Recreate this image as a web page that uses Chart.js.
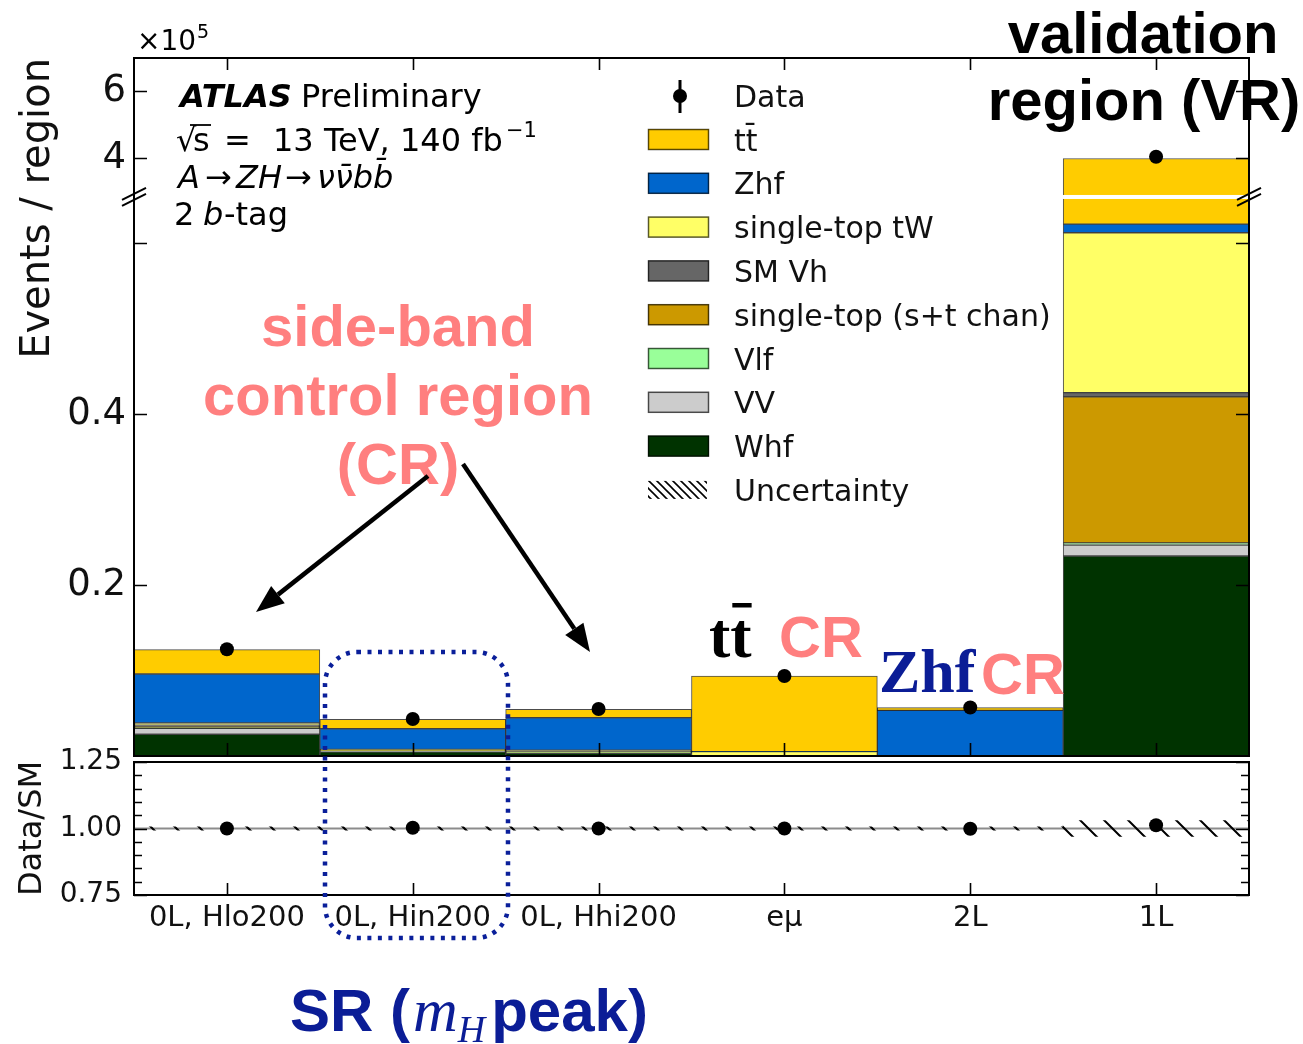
<!DOCTYPE html>
<html>
<head>
<meta charset="utf-8">
<script src="https://cdn.jsdelivr.net/npm/chart.js@4.4.1/dist/chart.umd.min.js"></script>
<style>
  html, body { margin: 0; padding: 0; background: #fff; }
  #wrap { position: relative; width: 1303px; height: 1044px; overflow: hidden; }
  canvas { position: absolute; left: 0; }
</style>
</head>
<body>
<div id="wrap">
  <canvas id="ratioChart" width="1303" height="250" style="top:700px"></canvas>
  <canvas id="mainChart" width="1303" height="1044" style="top:0"></canvas>
</div>
<script>
// ---- regions and event yields (events per region) ----
const regions = ['0L, Hlo200', '0L, Hin200', '0L, Hhi200', 'eμ', '2L', '1L'];

// background processes, listed from the bottom of the stack upwards
const whf      = [2540,  480,  320,    3,    3,  23400];
const vv       = [ 700,  100,   60,    5,   15,   1280];
const vlf      = [  80,   30,   20,    2,    5,    250];
const stopST   = [ 120,   50,   50,   15,    2,  17100];
const smVh     = [ 180,   80,   60,    5,   15,    470];
const stopTW   = [ 240,   40,  160,  480,   10,  18710];
const zhf      = [5730, 2410, 3810,   10, 5290,   1020];
const ttbar    = [2850, 1100,  980, 8840,  310, 337700];

const dataEvents = [12480, 4320, 5490, 9360, 5680, 405000];

// Data / SM ratio and relative uncertainty of the prediction
const ratio    = [1.000, 1.003, 1.000, 1.000, 0.999, 1.012];
const ratioUnc = [0.006, 0.006, 0.006, 0.006, 0.006, 0.030];

// axis ticks
const mainTicks      = [20000, 40000, 60000, 400000, 600000];
const mainUnlabelled = [60000];
const ratioTicks     = [0.75, 0.80, 0.85, 0.90, 0.95, 1.00, 1.05, 1.10, 1.15, 1.20, 1.25];
const ratioMajor     = [0.75, 1.00, 1.25];

// broken y axis: lower linear segment + upper linear segment
const Y_BREAK = { lowerMax: 65400, upperMin: 285000, upperMax: 700000, lowerShare: 0.8009 };

class BrokenLinearScale extends Chart.LinearScale {
  breakPixel() {
    return this.bottom - (this.bottom - this.top) * Y_BREAK.lowerShare;
  }
  getPixelForValue(value) {
    const split = this.breakPixel();
    if (value <= Y_BREAK.lowerMax) {
      return this.bottom - (value / Y_BREAK.lowerMax) * (this.bottom - split);
    }
    if (value >= Y_BREAK.upperMin) {
      const v = Math.min(value, Y_BREAK.upperMax);
      return split - (v - Y_BREAK.upperMin) / (Y_BREAK.upperMax - Y_BREAK.upperMin) * (split - this.top);
    }
    return split;
  }
  getValueForPixel(pixel) {
    const split = this.breakPixel();
    if (pixel >= split) {
      return (this.bottom - pixel) / (this.bottom - split) * Y_BREAK.lowerMax;
    }
    return Y_BREAK.upperMin + (split - pixel) / (split - this.top) * (Y_BREAK.upperMax - Y_BREAK.upperMin);
  }
}
BrokenLinearScale.id = 'brokenLinear';
BrokenLinearScale.defaults = Chart.LinearScale.defaults;
Chart.register(BrokenLinearScale);

Chart.defaults.font.family = '"DejaVu Sans", sans-serif';
Chart.defaults.color = '#000';

const stackDefs = [
  { label: 'Whf',                   values: whf,    color: '#003300' },
  { label: 'VV',                    values: vv,     color: '#cccccc' },
  { label: 'Vlf',                   values: vlf,    color: '#99ff99' },
  { label: 'single-top (s+t chan)', values: stopST, color: '#cc9900' },
  { label: 'SM Vh',                 values: smVh,   color: '#666666' },
  { label: 'single-top tW',         values: stopTW, color: '#ffff66' },
  { label: 'Zhf',                   values: zhf,    color: '#0066cc' },
  { label: 'tt\u0304',              values: ttbar,  color: '#ffcc00' }
];

function hatchPattern(size, lw) {
  const c = document.createElement('canvas');
  c.width = size; c.height = size;
  const g = c.getContext('2d');
  g.strokeStyle = '#000';
  g.lineWidth = lw;
  g.beginPath();
  g.moveTo(-1, -1); g.lineTo(size + 1, size + 1);
  g.moveTo(size - 2, -2); g.lineTo(size + 2, 2);
  g.moveTo(-2, size - 2); g.lineTo(2, size + 2);
  g.stroke();
  return g.createPattern(c, 'repeat');
}

const NAVY = '#0b1d96';
const SALMON = '#ff7f7f';

function arrow(ctx, x0, y0, x1, y1) {
  const ang = Math.atan2(y1 - y0, x1 - x0);
  const L = 28, W = 11;
  const bx = x1 - L * Math.cos(ang), by = y1 - L * Math.sin(ang);
  ctx.strokeStyle = '#000'; ctx.fillStyle = '#000';
  ctx.lineWidth = 4.5; ctx.lineCap = 'butt';
  ctx.beginPath(); ctx.moveTo(x0, y0); ctx.lineTo(bx, by); ctx.stroke();
  ctx.beginPath();
  ctx.moveTo(x1, y1);
  ctx.lineTo(bx + W * Math.sin(ang), by - W * Math.cos(ang));
  ctx.lineTo(bx - W * Math.sin(ang), by + W * Math.cos(ang));
  ctx.closePath(); ctx.fill();
}

// frame, inward ticks and the axis break of the upper panel
const mainDecor = {
  id: 'mainDecor',
  afterDatasetsDraw(chart) {
    const { ctx, chartArea: a, scales: { x, y } } = chart;
    ctx.save();
    const yb = y.breakPixel();
    ctx.fillStyle = '#fff';
    ctx.fillRect(a.left + 1, yb - 2, a.right - a.left - 2, 4);

    ctx.strokeStyle = '#000';
    ctx.lineWidth = 2;
    ctx.strokeRect(a.left, a.top, a.right - a.left, a.bottom - a.top);

    ctx.lineWidth = 1.6;
    ctx.beginPath();
    y.ticks.forEach(t => {
      const py = Math.round(y.getPixelForValue(t.value)) + 0.5;
      ctx.moveTo(a.left, py); ctx.lineTo(a.left + 13, py);
      ctx.moveTo(a.right, py); ctx.lineTo(a.right - 13, py);
    });
    regions.forEach((r, i) => {
      const px = Math.round(x.getPixelForValue(i)) + 0.5;
      ctx.moveTo(px, a.top); ctx.lineTo(px, a.top + 12);
      ctx.moveTo(px, a.bottom); ctx.lineTo(px, a.bottom - 13);
    });
    ctx.stroke();

    // "//" break marks on both spines
    ctx.lineWidth = 2;
    ctx.beginPath();
    [a.left, a.right].forEach(sx => {
      [-3, 3].forEach(dy => {
        ctx.moveTo(sx - 12, yb + dy + 6);
        ctx.lineTo(sx + 12, yb + dy - 6);
      });
    });
    ctx.stroke();
    ctx.restore();
  },
  afterDraw(chart) {
    const { ctx } = chart;
    ctx.save();
    ctx.textBaseline = 'alphabetic';
    ctx.fillStyle = '#000';

    // axis multiplier
    ctx.font = '28px "DejaVu Sans"';
    ctx.textAlign = 'left';
    ctx.fillText('×10', 137, 50);
    const mw = ctx.measureText('×10').width;
    ctx.font = '19px "DejaVu Sans"';
    ctx.fillText('5', 137 + mw + 1, 38);

    // experiment label block
    ctx.font = 'italic bold 32px "DejaVu Sans"';
    ctx.fillText('ATLAS', 180, 107);
    ctx.font = '32px "DejaVu Sans"';
    ctx.fillText('Preliminary', 301, 107);

    ctx.font = '32px "DejaVu Sans"';
    ctx.fillText('√', 176, 151);
    ctx.fillText('s', 193, 151);
    ctx.lineWidth = 1.8;
    ctx.beginPath(); ctx.moveTo(190, 125); ctx.lineTo(211, 125); ctx.strokeStyle = '#000'; ctx.stroke();
    ctx.fillText('=', 224, 151);
    ctx.fillText('13 TeV, 140 fb', 273, 151);
    ctx.font = '21px "DejaVu Sans"';
    ctx.fillText('−1', 506, 137);

    ctx.font = 'italic 32px "DejaVu Sans"';
    ctx.fillText('A', 178, 188);
    ctx.font = '32px "DejaVu Sans"';
    ctx.fillText('→', 205, 188);
    ctx.font = 'italic 32px "DejaVu Sans"';
    ctx.fillText('ZH', 236, 188);
    ctx.font = '32px "DejaVu Sans"';
    ctx.fillText('→', 285, 188);
    ctx.font = 'italic 32px "DejaVu Sans"';
    ctx.fillText('νν\u0304bb\u0304', 317, 188);

    ctx.font = '32px "DejaVu Sans"';
    ctx.fillText('2', 174, 225);
    ctx.font = 'italic 32px "DejaVu Sans"';
    ctx.fillText('b', 203, 225);
    ctx.font = '32px "DejaVu Sans"';
    ctx.fillText('-tag', 224, 225);

    // legend
    const lx = 648, sw = 61, sh = 21, tx = 734;
    ctx.font = '30px "DejaVu Sans"';
    ctx.fillStyle = '#111';
    // Data entry
    ctx.strokeStyle = '#000'; ctx.lineWidth = 3;
    ctx.beginPath(); ctx.moveTo(680, 80); ctx.lineTo(680, 113); ctx.stroke();
    ctx.fillStyle = '#000';
    ctx.beginPath(); ctx.arc(680, 96, 7, 0, Math.PI * 2); ctx.fill();
    ctx.fillStyle = '#111';
    ctx.fillText('Data', tx, 107);
    const bars = chart.data.datasets.filter(d => d.type !== 'line').slice().reverse();
    bars.forEach((d, i) => {
      const cy = 139.5 + 43.8 * i;
      ctx.fillStyle = d.backgroundColor;
      ctx.fillRect(lx, cy - sh / 2, sw, sh);
      ctx.strokeStyle = 'rgba(0,0,0,0.65)'; ctx.lineWidth = 1.5;
      ctx.strokeRect(lx + 0.5, cy - sh / 2 + 0.5, sw - 1, sh - 1);
      ctx.fillStyle = '#111';
      ctx.fillText(d.label, tx, cy + 11);
    });
    const uy = 139.5 + 43.8 * bars.length;
    ctx.fillStyle = hatchPattern(8, 1.6);
    ctx.fillRect(lx, uy - 9, sw - 2, 18);
    ctx.fillStyle = '#111';
    ctx.fillText('Uncertainty', tx, uy + 11);

    // region annotations
    ctx.fillStyle = '#000';
    ctx.textAlign = 'center';
    ctx.font = 'bold 58px "Liberation Sans"';
    ctx.fillText('validation', 1143, 53);
    ctx.fillText('region (VR)', 1144, 120);

    ctx.fillStyle = SALMON;
    ctx.fillText('side-band', 398, 346);
    ctx.fillText('control region', 398, 415);
    ctx.fillText('(CR)', 398, 484);

    arrow(ctx, 428, 476, 256, 612);
    arrow(ctx, 463, 464, 590, 652);

    ctx.textAlign = 'left';
    ctx.fillStyle = '#000';
    ctx.font = 'bold 64px "Liberation Serif"';
    ctx.fillText('tt', 709, 657);
    const tw = ctx.measureText('t').width;
    ctx.fillRect(709 + tw + 2, 603, tw - 2, 4.5);
    ctx.fillStyle = SALMON;
    ctx.font = 'bold 58px "Liberation Sans"';
    ctx.fillText('CR', 779, 657);

    ctx.fillStyle = NAVY;
    ctx.font = 'bold 62px "Liberation Serif"';
    ctx.fillText('Zhf', 879, 692);
    ctx.fillStyle = SALMON;
    ctx.font = 'bold 58px "Liberation Sans"';
    ctx.fillText('CR', 981, 694);

    // signal-region outline
    ctx.strokeStyle = '#0a1f9a';
    ctx.lineWidth = 4.5;
    ctx.setLineDash([4, 6.5]);
    ctx.beginPath();
    ctx.roundRect(325, 652, 183, 286, 32);
    ctx.stroke();
    ctx.setLineDash([]);

    // signal-region caption
    ctx.fillStyle = NAVY;
    let cx = 290;
    ctx.font = 'bold 60px "Liberation Sans"';
    ctx.fillText('SR (', cx, 1031);
    cx += ctx.measureText('SR (').width + 3;
    ctx.font = 'italic 62px "Liberation Serif"';
    ctx.fillText('m', cx, 1031);
    cx += ctx.measureText('m').width;
    ctx.font = 'italic 38px "Liberation Serif"';
    ctx.fillText('H', cx, 1042);
    cx += ctx.measureText('H').width + 6;
    ctx.font = 'bold 60px "Liberation Sans"';
    ctx.fillText('peak)', cx, 1031);

    ctx.restore();
  }
};

// frame, reference line and ticks of the ratio panel
const ratioDecor = {
  id: 'ratioDecor',
  beforeDatasetsDraw(chart) {
    const { ctx, chartArea: a, scales: { y } } = chart;
    ctx.save();
    const py = y.getPixelForValue(1.0);
    ctx.strokeStyle = '#8c8c8c';
    ctx.lineWidth = 2;
    ctx.beginPath(); ctx.moveTo(a.left, py); ctx.lineTo(a.right, py); ctx.stroke();
    ctx.restore();
  },
  afterDatasetsDraw(chart) {
    const { ctx, chartArea: a, scales: { x, y } } = chart;
    ctx.save();
    ctx.strokeStyle = '#000';
    ctx.lineWidth = 2;
    ctx.strokeRect(a.left, a.top, a.right - a.left, a.bottom - a.top);
    ctx.lineWidth = 1.6;
    ctx.beginPath();
    y.ticks.forEach(t => {
      const major = ratioMajor.some(m => Math.abs(m - t.value) < 1e-9);
      const len = major ? 13 : 8;
      const py = Math.round(y.getPixelForValue(t.value)) + 0.5;
      ctx.moveTo(a.left, py); ctx.lineTo(a.left + len, py);
      ctx.moveTo(a.right, py); ctx.lineTo(a.right - len, py);
    });
    regions.forEach((r, i) => {
      const px = Math.round(x.getPixelForValue(i)) + 0.5;
      ctx.moveTo(px, a.bottom); ctx.lineTo(px, a.bottom - 12);
    });
    ctx.stroke();
    ctx.restore();
  }
};

new Chart(document.getElementById('ratioChart'), {
  type: 'bar',
  data: {
    labels: regions,
    datasets: [
      {
        type: 'line', label: 'Data/SM', data: ratio, showLine: false,
        pointRadius: 7, pointHoverRadius: 7, pointBackgroundColor: '#000', pointBorderWidth: 0, order: 0
      },
      {
        label: 'Uncertainty', data: ratioUnc.map(u => [1 - u, 1 + u]),
        backgroundColor: hatchPattern(24, 2), borderWidth: 0,
        categoryPercentage: 1, barPercentage: 1, order: 1
      }
    ]
  },
  options: {
    responsive: false, animation: false, devicePixelRatio: 1,
    layout: { padding: { top: 62, right: 54, bottom: 0, left: 0 } },
    plugins: { legend: { display: false }, tooltip: { enabled: false } },
    scales: {
      x: {
        afterFit: s => { s.height = 55; },
        grid: { display: false, drawTicks: false }, border: { display: false },
        ticks: { font: { size: 29 }, padding: 6, maxRotation: 0, autoSkip: false, color: '#111' }
      },
      y: {
        min: 0.75, max: 1.25,
        afterFit: s => { s.width = 134; },
        afterBuildTicks: s => { s.ticks = ratioTicks.map(v => ({ value: v })); },
        ticks: {
          autoSkip: false, padding: 12, font: { size: 28 }, color: '#111',
          callback: v => ratioMajor.some(m => Math.abs(m - v) < 1e-9) ? v.toFixed(2) : ''
        },
        grid: { display: false, drawTicks: false }, border: { display: false },
        title: { display: true, text: 'Data/SM', font: { size: 32 }, padding: { top: 13, bottom: 0 }, color: '#111' }
      }
    }
  },
  plugins: [ratioDecor]
});

new Chart(document.getElementById('mainChart'), {
  type: 'bar',
  data: {
    labels: regions,
    datasets: [
      {
        type: 'line', label: 'Data', data: dataEvents, stack: 'data', showLine: false,
        pointRadius: 7, pointHoverRadius: 7, pointBackgroundColor: '#000', pointBorderWidth: 0, order: 0
      },
      ...stackDefs.map(s => ({
        label: s.label, data: s.values, backgroundColor: s.color,
        borderColor: 'rgba(0,0,0,0.7)', borderWidth: 1, borderSkipped: false,
        stack: 'bkg', order: 1, categoryPercentage: 1, barPercentage: 1
      }))
    ]
  },
  options: {
    responsive: false, animation: false, devicePixelRatio: 1,
    layout: { padding: { top: 58, right: 54, bottom: 288, left: 0 } },
    plugins: { legend: { display: false }, tooltip: { enabled: false } },
    scales: {
      x: { display: false, stacked: true },
      y: {
        type: 'brokenLinear', stacked: true, min: 0, max: 700000,
        afterFit: s => { s.width = 134; },
        afterBuildTicks: s => { s.ticks = mainTicks.map(v => ({ value: v })); },
        ticks: {
          autoSkip: false, padding: 8, font: { size: 37 }, color: '#111',
          callback: v => mainUnlabelled.includes(v) ? '' : String(+(v / 1e5).toFixed(1))
        },
        grid: { display: false, drawTicks: false }, border: { display: false },
        title: { display: true, text: 'Events / region', align: 'end', font: { size: 40 }, padding: { top: 15, bottom: 0 }, color: '#111' }
      }
    }
  },
  plugins: [mainDecor]
});
</script>
</body>
</html>
